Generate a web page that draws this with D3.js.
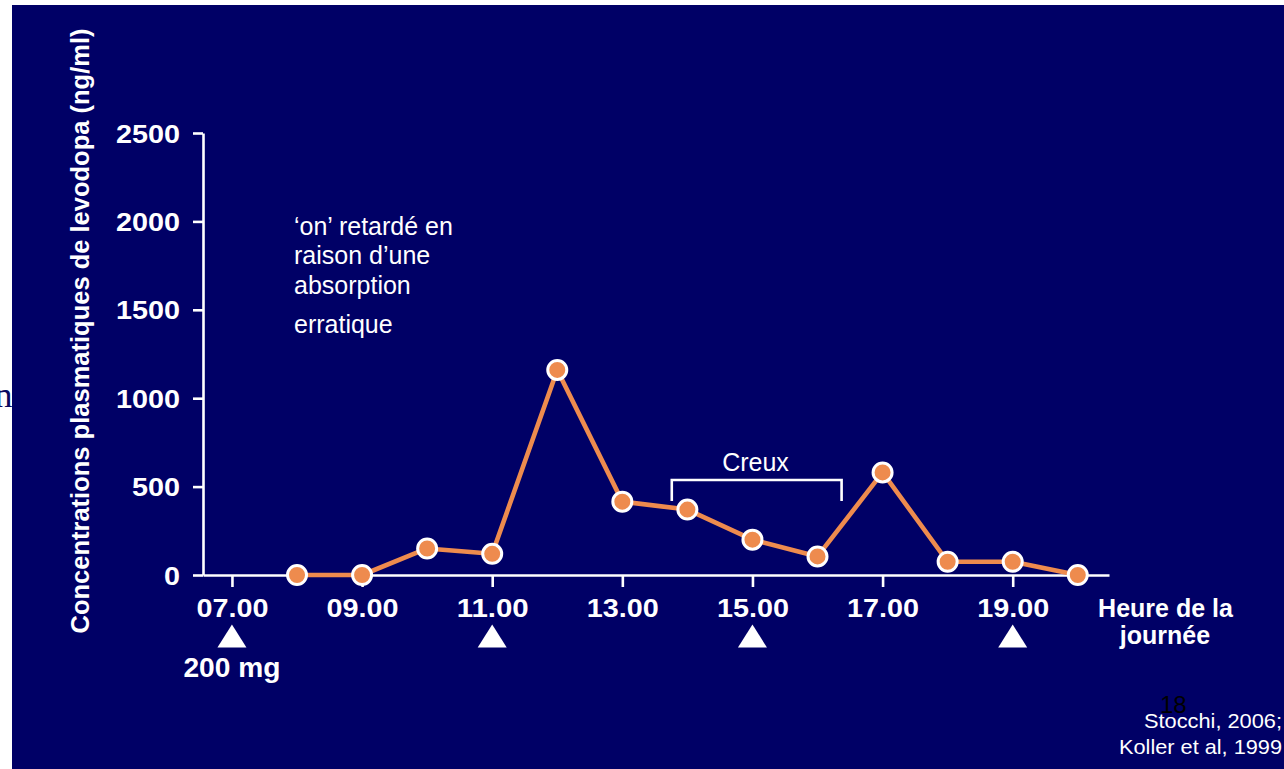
<!DOCTYPE html>
<html>
<head>
<meta charset="utf-8">
<script src="https://cdn.jsdelivr.net/npm/d3@7"></script>
<style>
  html, body { margin: 0; padding: 0; background: #fff; }
  svg { display: block; }
  text { font-family: "Liberation Sans", Arial, sans-serif; }
</style>
</head>
<body>
<svg id="chart" width="1284" height="769"></svg>
<script>
// Levodopa plasma concentration over the day
const hours = [8, 9, 10, 11, 12, 13, 14, 15, 16, 17, 18, 19, 20];
const concentrations = [0, 0, 150, 120, 1160, 415, 370, 200, 105, 580, 75, 75, 0];
const yTicks = [0, 500, 1000, 1500, 2000, 2500];
const xTicks = [7, 9, 11, 13, 15, 17, 19];
const xTickLabels = ["07.00", "09.00", "11.00", "13.00", "15.00", "17.00", "19.00"];
const doseHours = [7, 11, 15, 19];
const creuxSpan = [13.76, 16.37];     // hours covered by the trough bracket
const creuxLevels = [537, 418];       // bracket top and leg ends (ng/ml)
const noteLines = ["\u2018on\u2019 retard\u00e9 en", "raison d\u2019une", "absorption", "erratique"];
const citationLines = ["Stocchi, 2006;", "Koller et al, 1999"];

const NAVY = "#000066";
const ORANGE = "#EE8B4E";

const svg = d3.select("#chart");

// page background: white margin with a navy panel
svg.append("text")
  .attr("x", 12.5).attr("y", 407)
  .attr("text-anchor", "end")
  .style("font-family", "'Liberation Serif', 'Times New Roman', serif")
  .style("font-size", "36px")
  .attr("fill", "#0a0a60")
  .text("n");
svg.append("rect")
  .attr("x", 12).attr("y", 5)
  .attr("width", 1284 - 12).attr("height", 769 - 5)
  .attr("fill", NAVY);

const x = d3.scaleLinear().domain([6.555, 20.48]).range([203, 1109]);
const y = d3.scaleLinear().domain([0, 2500]).range([575, 133]);

// y axis
const yAxis = svg.append("g")
  .attr("transform", "translate(203,0)")
  .call(d3.axisLeft(y).tickValues(yTicks).tickSize(10).tickSizeOuter(0).tickFormat(d3.format("d")));
yAxis.select(".domain").attr("stroke", "#fff").attr("stroke-width", 2.6);
yAxis.selectAll(".tick line").attr("stroke", "#fff").attr("stroke-width", 2.6);
yAxis.selectAll(".tick text")
  .attr("x", -23).attr("dy", null).attr("y", 9)
  .attr("fill", "#fff")
  .style("font-size", "26px").style("font-weight", "bold")
  .attr("textLength", d => String(d).length * 16)
  .attr("lengthAdjust", "spacingAndGlyphs");

// x axis
const xAxis = svg.append("g")
  .attr("transform", "translate(0,575)")
  .call(d3.axisBottom(x).tickValues(xTicks).tickSize(12).tickSizeOuter(0)
    .tickFormat((d, i) => xTickLabels[i]));
xAxis.select(".domain").attr("stroke", "#fff").attr("stroke-width", 2.6);
xAxis.selectAll(".tick line").attr("stroke", "#fff").attr("stroke-width", 2.6);
xAxis.selectAll(".tick text")
  .attr("dy", null).attr("y", 42)
  .attr("fill", "#fff")
  .style("font-size", "26px").style("font-weight", "bold")
  .attr("textLength", 72)
  .attr("lengthAdjust", "spacingAndGlyphs");

// axis titles
svg.append("text")
  .attr("transform", "translate(89,331) rotate(-90)")
  .attr("text-anchor", "middle")
  .attr("fill", "#fff")
  .style("font-size", "25.5px").style("font-weight", "bold")
  .text("Concentrations plasmatiques de levodopa (ng/ml)");

const xTitle = svg.append("text")
  .attr("text-anchor", "middle")
  .attr("fill", "#fff")
  .style("font-size", "25px").style("font-weight", "bold");
xTitle.append("tspan").attr("x", 1165.5).attr("y", 617).text("Heure de la");
xTitle.append("tspan").attr("x", 1165).attr("y", 644).text("journ\u00e9e");

// dose markers
svg.selectAll("path.dose")
  .data(doseHours)
  .join("path")
  .attr("class", "dose")
  .attr("d", h => {
    const cx = x(h);
    return `M${cx},624.5 L${cx + 14.5},647.5 L${cx - 14.5},647.5 Z`;
  })
  .attr("fill", "#fff");

svg.append("text")
  .attr("x", x(doseHours[0])).attr("y", 677)
  .attr("text-anchor", "middle")
  .attr("fill", "#fff")
  .style("font-size", "27px").style("font-weight", "bold")
  .attr("textLength", 97).attr("lengthAdjust", "spacingAndGlyphs")
  .text("200 mg");

// trough bracket
svg.append("path")
  .attr("d", d3.line()([
    [x(creuxSpan[0]), y(creuxLevels[1])],
    [x(creuxSpan[0]), y(creuxLevels[0])],
    [x(creuxSpan[1]), y(creuxLevels[0])],
    [x(creuxSpan[1]), y(creuxLevels[1])]
  ]))
  .attr("fill", "none").attr("stroke", "#fff").attr("stroke-width", 2.6);

svg.append("text")
  .attr("x", 755.5).attr("y", 471)
  .attr("text-anchor", "middle")
  .attr("fill", "#fff")
  .style("font-size", "25px")
  .text("Creux");

// concentration curve
const pts = hours.map((h, i) => [h, concentrations[i]]);
svg.append("path")
  .datum(pts)
  .attr("d", d3.line().x(d => x(d[0])).y(d => y(d[1])))
  .attr("fill", "none")
  .attr("stroke", ORANGE)
  .attr("stroke-width", 4.6)
  .attr("stroke-linejoin", "round");

svg.selectAll("circle.pt")
  .data(pts)
  .join("circle")
  .attr("class", "pt")
  .attr("cx", d => x(d[0]))
  .attr("cy", d => y(d[1]))
  .attr("r", 9.5)
  .attr("fill", ORANGE)
  .attr("stroke", "#fff")
  .attr("stroke-width", 3);

// annotation
const noteY = [235, 264, 294, 333];
svg.append("g").selectAll("text")
  .data(noteLines)
  .join("text")
  .attr("x", 294)
  .attr("y", (d, i) => noteY[i])
  .attr("fill", "#fff")
  .style("font-size", "25px")
  .text(d => d);

// slide number and source
svg.append("text")
  .attr("x", 1160).attr("y", 713)
  .attr("fill", "#000")
  .style("font-size", "24px")
  .text("18");

const citeY = [728, 754];
const citeW = [138, 163];
svg.append("g").selectAll("text")
  .data(citationLines)
  .join("text")
  .attr("x", 1282)
  .attr("y", (d, i) => citeY[i])
  .attr("text-anchor", "end")
  .attr("fill", "#fff")
  .style("font-size", "21px")
  .attr("textLength", (d, i) => citeW[i])
  .attr("lengthAdjust", "spacingAndGlyphs")
  .text(d => d);
</script>
</body>
</html>
